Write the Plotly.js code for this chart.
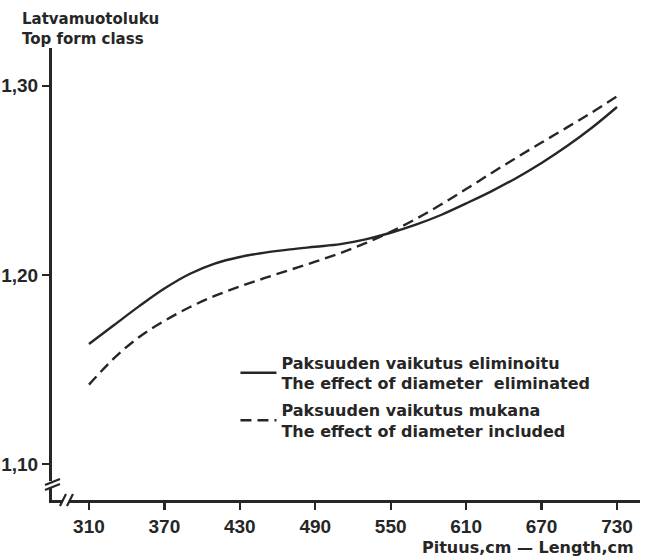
<!DOCTYPE html>
<html>
<head>
<meta charset="utf-8">
<script src="https://cdn.plot.ly/plotly-3.0.1.min.js"></script>
<style>
  html, body { margin: 0; padding: 0; background: #ffffff; }
  #chart { width: 647px; height: 556px; }
</style>
</head>
<body>
<div id="chart"></div>
<script>
// Log length (cm) at which the top form class is evaluated
const lengthCm = [310, 330, 350, 370, 390, 410, 430, 450, 470, 490, 510,
                  530, 550, 570, 590, 610, 630, 650, 670, 690, 710, 730];

// Top form class, effect of diameter eliminated (solid line)
const formEliminated = [1.1635, 1.1735, 1.1835, 1.1928, 1.2005, 1.2060, 1.2095,
                        1.2118, 1.2135, 1.2149, 1.2163, 1.2188, 1.2223, 1.2266,
                        1.2317, 1.2378, 1.2442, 1.2513, 1.2592, 1.2680, 1.2778, 1.2888];

// Top form class, effect of diameter included (dashed line)
const formIncluded = [1.1420, 1.1560, 1.1672, 1.1757, 1.1829, 1.1889, 1.1939,
                      1.1984, 1.2027, 1.2070, 1.2116, 1.2168, 1.2228, 1.2296,
                      1.2372, 1.2454, 1.2538, 1.2620, 1.2700, 1.2779, 1.2859, 1.2944];

// Axis ticks
const xTickVals = [310, 370, 430, 490, 550, 610, 670, 730];
const yTickVals = [1.10, 1.20, 1.30];
const yTickText = ['1,10', '1,20', '1,30'];

// Legend texts
const nameEliminated = 'Paksuuden vaikutus eliminoitu<br>The effect of diameter  eliminated';
const nameIncluded = 'Paksuuden vaikutus mukana<br>The effect of diameter included';

const ink = '#262626';
const textFont = 'DejaVu Sans, sans-serif';
const tickFont = 'Liberation Sans, Arial, sans-serif';

const traces = [
  {
    x: lengthCm, y: formEliminated, name: nameEliminated, legendgroup: 'eliminated',
    type: 'scatter', mode: 'lines',
    line: { color: ink, width: 2.4, shape: 'spline', smoothing: 1 }
  },
  {
    x: lengthCm, y: formIncluded, name: nameIncluded, legendgroup: 'included',
    type: 'scatter', mode: 'lines',
    line: { color: ink, width: 2.4, shape: 'spline', smoothing: 1, dash: '11px,6px' }
  }
];

// Axis break marks: a white gap on each axis line crossed by two short slashes
const yBreak = 1.0889;   // y value where the vertical axis is broken
const xBreak = 291.7;    // x value where the horizontal axis is broken
function slash(xref, yref, xa, ya, x0, y0, x1, y1) {
  return {
    type: 'line', layer: 'above',
    xref: xref, yref: yref,
    xsizemode: 'pixel', ysizemode: 'pixel',
    xanchor: xa, yanchor: ya,
    x0: x0, y0: y0, x1: x1, y1: y1,
    line: { color: ink, width: 2.2 }
  };
}
const shapes = [
  { type: 'rect', layer: 'above', xref: 'paper', yref: 'y',
    xsizemode: 'pixel', ysizemode: 'pixel', xanchor: 0, yanchor: yBreak,
    x0: -4, x1: 4, y0: -3, y1: 4, line: { width: 0 }, fillcolor: '#ffffff' },
  slash('paper', 'y', 0, yBreak, -7, -5, 8, 1),
  slash('paper', 'y', 0, yBreak, -7, 0, 8, 6),
  { type: 'rect', layer: 'above', xref: 'x', yref: 'paper',
    xsizemode: 'pixel', ysizemode: 'pixel', xanchor: xBreak, yanchor: 0,
    x0: -3, x1: 3, y0: -3, y1: 4, line: { width: 0 }, fillcolor: '#ffffff' },
  slash('x', 'paper', xBreak, 0, -6, -6, 0, 6),
  slash('x', 'paper', xBreak, 0, 1, -6, 7, 6)
];

const layout = {
  width: 647, height: 556,
  paper_bgcolor: '#ffffff', plot_bgcolor: '#ffffff',
  margin: { l: 52, r: 7, t: 48, b: 56 },
  title: {
    text: 'Latvamuotoluku<br>Top form class',
    font: { family: textFont, size: 15, color: ink, weight: 'bold' },
    xref: 'container', yref: 'container',
    x: 0.034, xanchor: 'left', y: 0.956, yanchor: 'top'
  },
  xaxis: {
    range: [280.6, 748.3],
    tickvals: xTickVals,
    ticks: 'outside', ticklen: 7, tickwidth: 2.2, tickcolor: ink,
    showline: true, linecolor: ink, linewidth: 3,
    showgrid: false, zeroline: false,
    tickfont: { family: tickFont, size: 19, color: ink, weight: 'bold' }
  },
  yaxis: {
    range: [1.081, 1.320],
    tickvals: yTickVals, ticktext: yTickText,
    ticks: 'outside', ticklen: 7, tickwidth: 2.2, tickcolor: ink,
    showline: true, linecolor: ink, linewidth: 3,
    showgrid: false, zeroline: false,
    tickfont: { family: tickFont, size: 19, color: ink, weight: 'bold' }
  },
  showlegend: true,
  legend: {
    x: 0.312, y: 0.342, xanchor: 'left', yanchor: 'top',
    bgcolor: 'rgba(0,0,0,0)', borderwidth: 0,
    itemwidth: 36, valign: 'middle',
    traceorder: 'grouped', tracegroupgap: 3,
    font: { family: textFont, size: 16, color: ink, weight: 'bold' }
  },
  annotations: [
    {
      text: 'Pituus,cm — Length,cm',
      xref: 'paper', yref: 'paper',
      x: 0.994, y: -0.104, xanchor: 'right', yanchor: 'middle',
      showarrow: false,
      font: { family: textFont, size: 16, color: ink, weight: 'bold' }
    }
  ],
  shapes: shapes
};

Plotly.newPlot('chart', traces, layout, { staticPlot: true, displayModeBar: false });
</script>
</body>
</html>
